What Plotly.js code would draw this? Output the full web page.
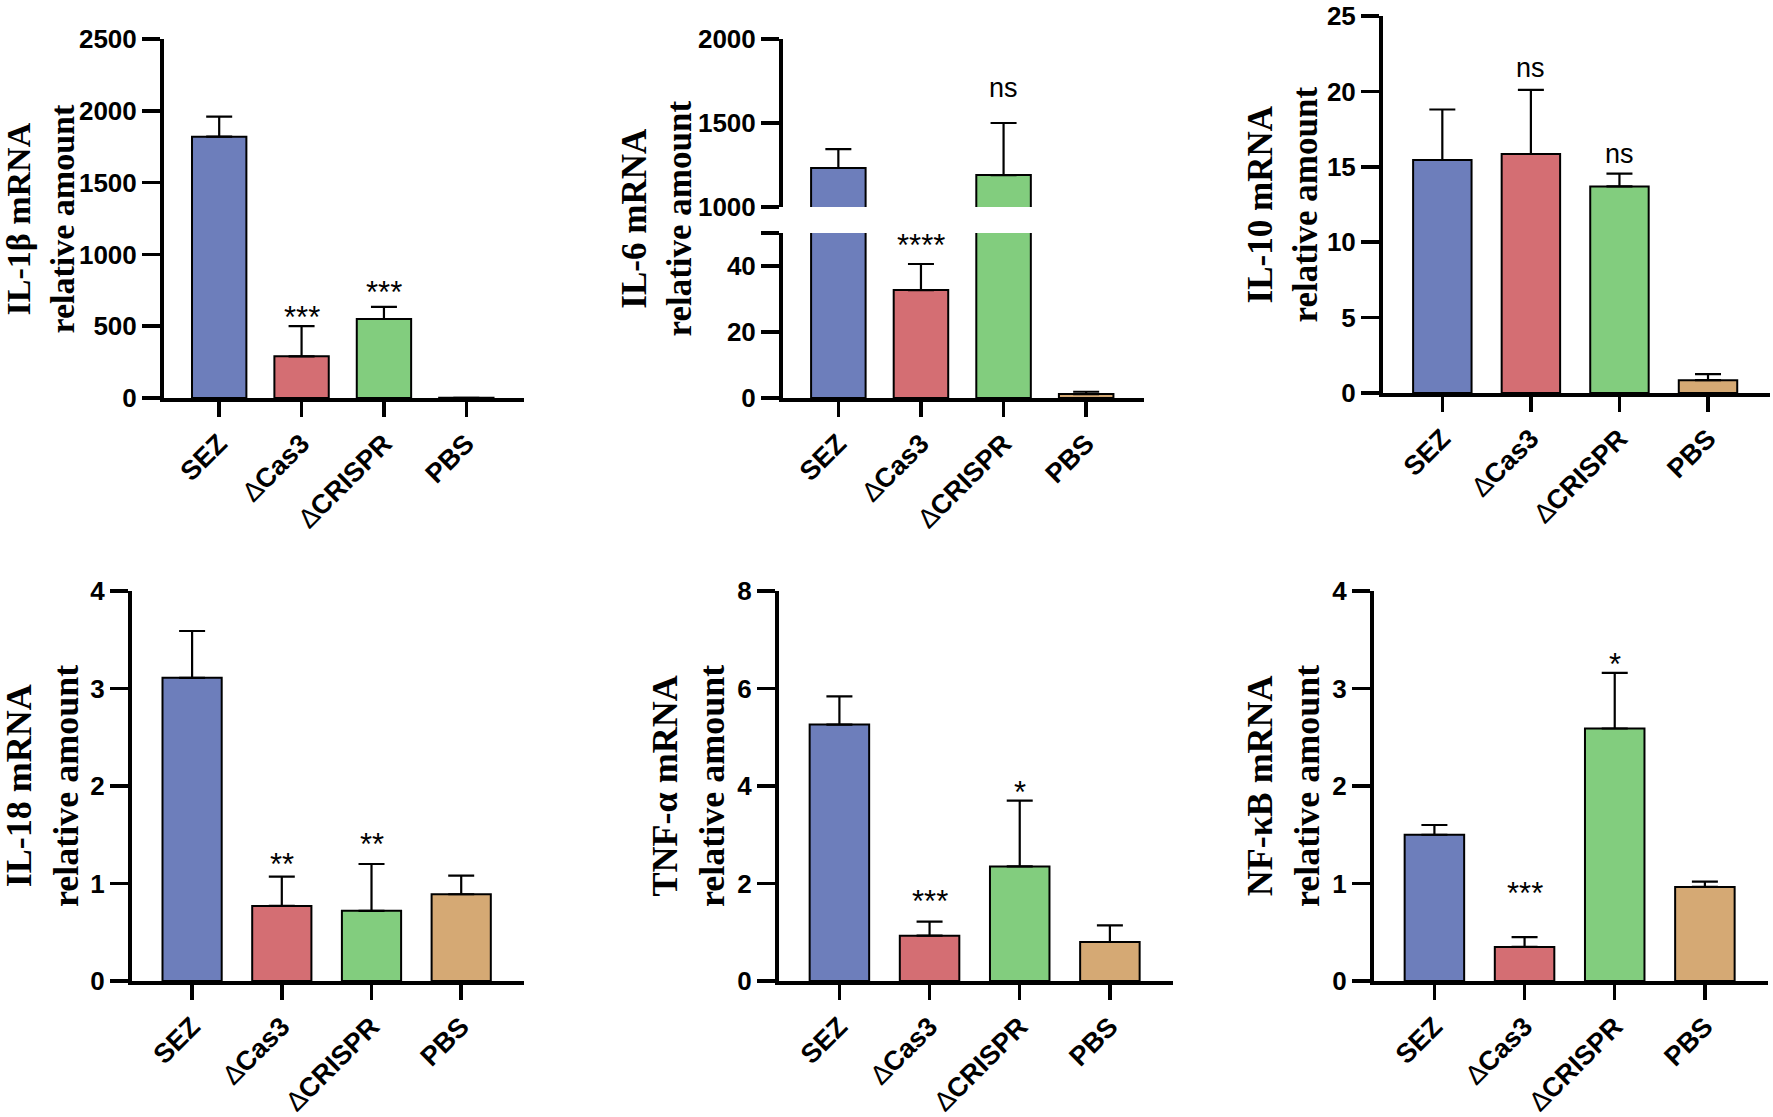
<!DOCTYPE html>
<html>
<head>
<meta charset="utf-8">
<script src="https://cdn.plot.ly/plotly-3.0.1.min.js"></script>
<style>
  html, body { margin: 0; padding: 0; background: #fff; }
  #chart { width: 1773px; height: 1117px; }
</style>
</head>
<body>
<div id="chart"></div>
<script>
// groups and colours shared by every panel
const groups = ['SEZ', '\u2206Cas3', '\u2206CRISPR', 'PBS'];
const groupColors = ['#6D7EBB', '#D46E73', '#82CD7E', '#D5A974'];

// mean and SEM (upper error only)
const il1bMean = [1820, 290, 550, 1];
const il1bSem = [140, 210, 85, 0.5];
const il1bSig = ['', '***', '***', ''];
const il1bSigY = [null, 613, 787, null];

const il6Mean = [1232, 32.7, 1190, 1.2];
const il6Sem = [113, 7.9, 310, 0.7];
const il6Sig = ['', '****', 'ns', ''];
const il6SigY = [null, 48.5, 1696, null];

const il10Mean = [15.45, 15.85, 13.7, 0.85];
const il10Sem = [3.35, 4.25, 0.85, 0.4];
const il10Sig = ['', 'ns', 'ns', ''];
const il10SigY = [null, 21.4, 15.7, null];

const il18Mean = [3.11, 0.77, 0.72, 0.89];
const il18Sem = [0.48, 0.30, 0.48, 0.19];
const il18Sig = ['', '**', '**', ''];
const il18SigY = [null, 1.28, 1.48, null];

const tnfMean = [5.26, 0.93, 2.35, 0.80];
const tnfSem = [0.58, 0.29, 1.35, 0.34];
const tnfSig = ['', '***', '*', ''];
const tnfSigY = [null, 1.79, 4.04, null];

const nfkbMean = [1.50, 0.35, 2.59, 0.965];
const nfkbSem = [0.10, 0.10, 0.57, 0.055];
const nfkbSig = ['', '***', '*', ''];
const nfkbSigY = [null, 0.98, 3.33, null];

const W = 1773, H = 1117;
const fx = p => p / W;
const fy = p => 1 - p / H;

// panel boxes in page pixels
const panels = [
  { n: 1, title: 'IL-1\u03b2 mRNA', mean: il1bMean, sem: il1bSem, sig: il1bSig, sigY: il1bSigY,
    left: 164, right: 524, top: 39, bottom: 398, range: [0, 2500], dtick: 500, titleX: 40, titleSize: 34 },
  { n: 2, title: 'IL-6 mRNA', mean: il6Mean, sem: il6Sem, sig: il6Sig, sigY: il6SigY,
    left: 783, right: 1144, top: 233, bottom: 398, range: [0, 50], tickvals: [0, 20, 40, 50],
    ticktext: ['0', '20', '40', ''], titleX: 657, titleSize: 35,
    upper: { top: 39, bottom: 207, range: [1000, 2000], dtick: 500 } },
  { n: 3, title: 'IL-10 mRNA', mean: il10Mean, sem: il10Sem, sig: il10Sig, sigY: il10SigY,
    left: 1383, right: 1770, top: 16, bottom: 393, range: [0, 25], dtick: 5, titleX: 1283, titleSize: 35 },
  { n: 4, title: 'IL-18 mRNA', mean: il18Mean, sem: il18Sem, sig: il18Sig, sigY: il18SigY,
    left: 132, right: 524, top: 591, bottom: 981, range: [0, 4], dtick: 1, titleX: 42, titleSize: 36 },
  { n: 5, title: 'TNF-\u03b1 mRNA', mean: tnfMean, sem: tnfSem, sig: tnfSig, sigY: tnfSigY,
    left: 779, right: 1173, top: 591, bottom: 981, range: [0, 8], dtick: 2, titleX: 688, titleSize: 36 },
  { n: 6, title: 'NF-\u03baB mRNA', mean: nfkbMean, sem: nfkbSem, sig: nfkbSig, sigY: nfkbSigY,
    left: 1374, right: 1768, top: 591, bottom: 981, range: [0, 4], dtick: 1, titleX: 1283, titleSize: 36 }
];

const tickFont = { family: 'Liberation Sans, Arial, sans-serif', size: 26, color: '#000', weight: 'bold' };
const xRange = [-0.67, 3.7];
// the delta sign is drawn thin, as in the original
const groupLabels = groups.map(g => g.replace('\u2206', '<span style="font-weight:normal">\u2206</span>'));

const layout = {
  width: W, height: H,
  margin: { l: 0, r: 0, t: 0, b: 0 },
  paper_bgcolor: '#fff', plot_bgcolor: '#fff',
  showlegend: false,
  bargap: 0.34,
  annotations: [],
  font: { family: 'Liberation Sans, Arial, sans-serif', color: '#000' }
};
const traces = [];

function yAxisDef(domain, range, anchor, opts) {
  const ax = {
    domain: domain, range: range, anchor: anchor, autorange: false,
    showgrid: false, zeroline: false, showline: true, linecolor: '#000', linewidth: 4,
    ticks: 'outside', ticklen: 18, tickwidth: 3.5, tickcolor: '#000',
    tickfont: tickFont, ticklabeloverflow: 'allow', fixedrange: true
  };
  if (opts.tickvals) { ax.tickmode = 'array'; ax.tickvals = opts.tickvals; ax.ticktext = opts.ticktext; }
  else { ax.tick0 = range[0]; ax.dtick = opts.dtick; }
  return ax;
}

function barTrace(p, xa, ya) {
  return {
    type: 'bar', x: groups, y: p.mean, xaxis: xa, yaxis: ya,
    marker: { color: groupColors, line: { color: '#000', width: 2 } },
    error_y: { type: 'data', symmetric: false, array: p.sem, arrayminus: p.sem.map(() => 0),
      color: '#000', thickness: 2.2, width: 13 },
    hoverinfo: 'skip'
  };
}

panels.forEach(p => {
  const xName = 'xaxis' + (p.n === 1 ? '' : p.n);
  const yName = 'yaxis' + (p.n === 1 ? '' : p.n);
  const xa = 'x' + (p.n === 1 ? '' : p.n);
  const ya = 'y' + (p.n === 1 ? '' : p.n);

  layout[xName] = {
    domain: [fx(p.left), fx(p.right)], anchor: ya, type: 'category',
    range: xRange, autorange: false,
    showgrid: false, zeroline: false, showline: true, linecolor: '#000', linewidth: 4,
    ticks: 'outside', ticklen: 15, tickwidth: 3.5, tickcolor: '#000',
    tickmode: 'array', tickvals: groups, ticktext: groupLabels,
    tickangle: -45, tickfont: { ...tickFont, size: 27 }, ticklabeloverflow: 'allow', fixedrange: true
  };
  layout[yName] = yAxisDef([fy(p.bottom), fy(p.top)], p.range, xa, p);
  traces.push(barTrace(p, xa, ya));

  let upperY = null;
  if (p.upper) {
    upperY = 'y7';
    layout.yaxis7 = yAxisDef([fy(p.upper.bottom), fy(p.upper.top)], p.upper.range, xa, p.upper);
    traces.push(barTrace(p, xa, upperY));
  }

  // axis title, two lines, rotated
  const yTop = p.upper ? p.upper.top : p.top;
  layout.annotations.push({
    xref: 'paper', yref: 'paper', x: fx(p.titleX), y: fy((yTop + p.bottom) / 2),
    xanchor: 'center', yanchor: 'middle', showarrow: false, textangle: -90,
    text: p.title + '<br>relative amount',
    font: { family: 'Liberation Serif, Times New Roman, serif', size: p.titleSize, color: '#000', weight: 'bold' }
  });

  // significance marks
  p.sig.forEach((s, i) => {
    if (!s) return;
    const isNs = s === 'ns';
    let yref = ya;
    if (upperY && p.sigY[i] > p.range[1]) yref = upperY;
    layout.annotations.push({
      xref: xa, yref: yref, x: groups[i], y: p.sigY[i],
      xanchor: 'center', yanchor: 'middle', showarrow: false,
      yshift: isNs ? 2 : -8,
      text: s,
      font: { family: 'Liberation Sans, Arial, sans-serif', size: isNs ? 27 : 31, color: '#000' }
    });
  });
});

Plotly.newPlot('chart', traces, layout, { staticPlot: true, displayModeBar: false });
</script>
</body>
</html>
